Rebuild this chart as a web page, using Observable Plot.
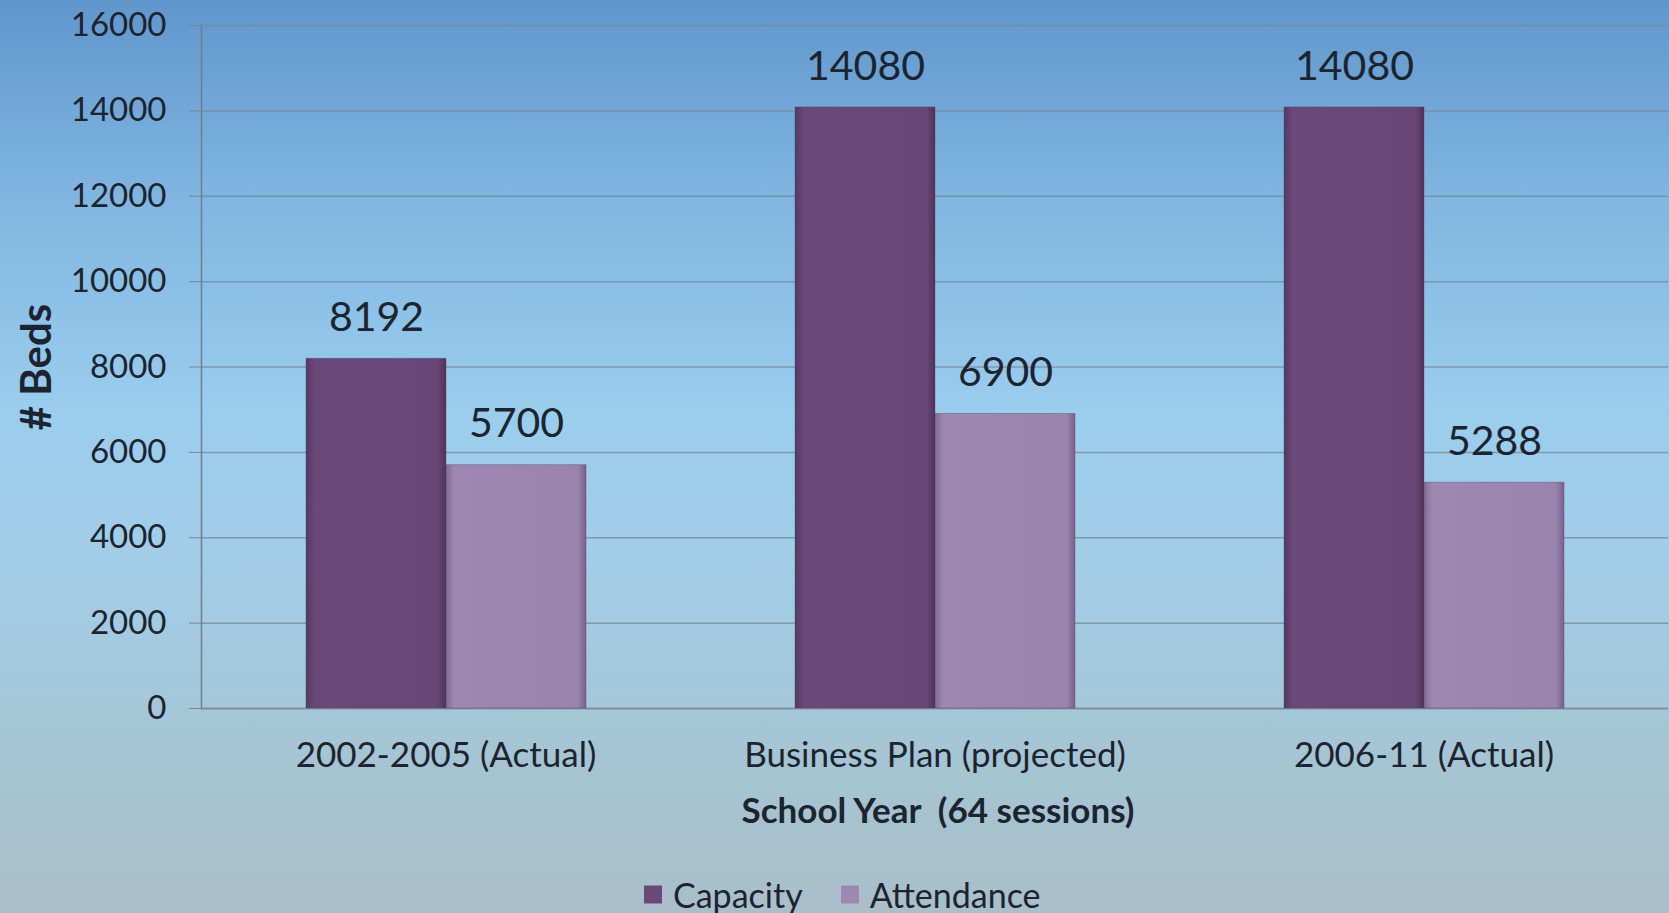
<!DOCTYPE html>
<html>
<head>
<meta charset="utf-8">
<script src="https://cdn.jsdelivr.net/npm/d3@7"></script>
<script src="https://cdn.jsdelivr.net/npm/@observablehq/plot@0.6"></script>
<style>
  html, body { margin: 0; padding: 0; }
  body {
    width: 1669px; height: 913px; overflow: hidden; position: relative;
    background: linear-gradient(to bottom, #6196cc 0%, #80b6e0 22%, #9acdee 45%, #a2cde6 62%, #a6c4d2 85%, #a9bfca 100%);
    font-family: Lato, "Open Sans", sans-serif; color: #1c2430;
  }
  #chart { position: absolute; left: 0; top: 0; }
  .ytitle { position: absolute; left: 35px; top: 367px; transform: translate(-50%, -50%) rotate(-90deg);
    font-weight: 700; font-size: 42px; white-space: nowrap; }
  .xtitle { position: absolute; left: 938px; top: 809px; transform: translate(-50%, -50%);
    font-weight: 700; font-size: 35px; white-space: pre; }
  .legend { position: absolute; left: 644px; top: 894px; transform: translateY(-50%);
    display: flex; align-items: center; font-size: 34px; white-space: nowrap; }
  .legend .sw { width: 18px; height: 18px; display: inline-block; margin-right: 11px; }
  .legend .item { display: flex; align-items: center; margin-right: 38px; }
</style>
</head>
<body>
<svg width="0" height="0" style="position:absolute">
  <defs>
    <linearGradient id="gCap" x1="0" x2="1" y1="0" y2="0">
      <stop offset="0" stop-color="#553862"/>
      <stop offset="0.06" stop-color="#6a4878"/>
      <stop offset="0.94" stop-color="#684676"/>
      <stop offset="1" stop-color="#4f3359"/>
    </linearGradient>
    <linearGradient id="gAtt" x1="0" x2="1" y1="0" y2="0">
      <stop offset="0" stop-color="#806c98"/>
      <stop offset="0.06" stop-color="#9c88b0"/>
      <stop offset="0.94" stop-color="#9884ac"/>
      <stop offset="1" stop-color="#76628c"/>
    </linearGradient>
  </defs>
</svg>
<div id="chart"></div>
<div class="ytitle"># Beds</div>
<div class="xtitle">School Year  (64 sessions)</div>
<div class="legend" id="legend"></div>
<script>
const groups = ["2002-2005 (Actual)", "Business Plan (projected)", "2006-11 (Actual)"];
const series = ["Capacity", "Attendance"];
const capacity = [8192, 14080, 14080];
const attendance = [5700, 6900, 5288];
const yTicks = [0, 2000, 4000, 6000, 8000, 10000, 12000, 14000, 16000];
const seriesFills = ["url(#gCap)", "url(#gAtt)"];
const legendColors = ["#6a4878", "#9c88b0"];

const data = groups.flatMap((g, i) => [
  {group: g, series: "Capacity", value: capacity[i]},
  {group: g, series: "Attendance", value: attendance[i]}
]);

const chart = Plot.plot({
  width: 1669,
  height: 840,
  marginLeft: 200,
  marginRight: 0,
  marginTop: 25,
  marginBottom: 132,
  style: {background: "transparent", fontFamily: "Lato, 'Open Sans', sans-serif", color: "#1c2430", overflow: "visible"},
  fx: {domain: groups, padding: 0, label: null, axis: null},
  x: {domain: series, paddingInner: 0, paddingOuter: 0.74, axis: null},
  y: {domain: [0, 16000], ticks: yTicks, label: null},
  color: {domain: series, range: seriesFills},
  marks: [
    Plot.gridY(yTicks, {stroke: "#76899a", strokeOpacity: 0.75, strokeWidth: 1.5}),
    Plot.axisY({ticks: yTicks, tickSize: 12, tickPadding: 23, fontSize: 33, label: null, stroke: "#76899a", tickFormat: d => String(d)}),
    Plot.axisFx({anchor: "bottom", tickSize: 0, tickPadding: 34, fontSize: 35, label: null}),
    Plot.ruleY([0], {stroke: "#7a8a96", strokeWidth: 1.5}),
    Plot.frame({anchor: "left", facetAnchor: "left", stroke: "#6d7f8c", strokeWidth: 1.5}),
    Plot.barY(data, {fx: "group", x: "series", y: "value", fill: "series", stroke: "#4a3a55", strokeOpacity: 0.35}),
    Plot.text(data, {fx: "group", x: "series", y: "value", text: d => String(d.value), lineAnchor: "middle", dy: -41, fontSize: 41, fill: "#1c2430"})
  ]
});
document.getElementById("chart").appendChild(chart);

const legend = document.getElementById("legend");
series.forEach((s, i) => {
  const item = document.createElement("div");
  item.className = "item";
  const sw = document.createElement("span");
  sw.className = "sw";
  sw.style.background = legendColors[i];
  item.appendChild(sw);
  item.appendChild(document.createTextNode(s));
  legend.appendChild(item);
});
</script>
</body>
</html>
